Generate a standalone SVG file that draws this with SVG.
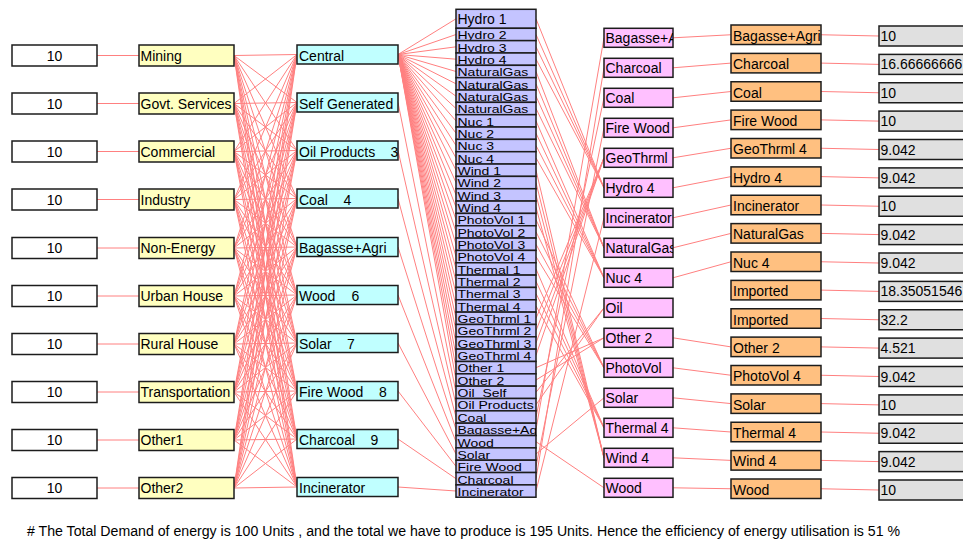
<svg xmlns="http://www.w3.org/2000/svg" width="963" height="543" viewBox="0 0 963 543">
<style>
  text { font-family: "Liberation Sans", Arial, sans-serif; font-size: 14px; fill: #000; }
  .b { stroke: #1c1c1c; stroke-width: 1.5; }
  .dem { fill: #ffffff; }
  .sec { fill: #ffffc0; }
  .sup { fill: #c0ffff; }
  .mix { fill: #c4c4ff; }
  .src { fill: #ffc0ff; }
  .fuel { fill: #ffc080; }
  .val { fill: #e0e0e0; }
  .lk { stroke: #ff8080; stroke-width: 1; fill: none; }
  .mid { text-anchor: middle; }
  /* labels of the thin stacked cells are squeezed vertically to fit their row */
  .sq { transform: scale(1, 0.78); }
</style>
<rect width="963" height="543" fill="#ffffff"/>

<!-- connectors -->
<g id="connectors" class="lk">
  <!-- demand to sector -->
  <path d="M97 55.5H139M97 103.5H139M97 151.5H139M97 199.5H139M97 248H139M97 296H139M97 344H139M97 392H139M97 440H139M97 488H139"/>
  <!-- sector to supply (every pair) -->
  <path d="M234 55.5L297 54.5M234 55.5L297 102.5M234 55.5L297 150.5M234 55.5L297 198.5M234 55.5L297 247M234 55.5L297 295M234 55.5L297 343M234 55.5L297 391M234 55.5L297 439M234 55.5L297 487"/>
  <path d="M234 103.5L297 54.5M234 103.5L297 102.5M234 103.5L297 150.5M234 103.5L297 198.5M234 103.5L297 247M234 103.5L297 295M234 103.5L297 343M234 103.5L297 391M234 103.5L297 439M234 103.5L297 487"/>
  <path d="M234 151.5L297 54.5M234 151.5L297 102.5M234 151.5L297 150.5M234 151.5L297 198.5M234 151.5L297 247M234 151.5L297 295M234 151.5L297 343M234 151.5L297 391M234 151.5L297 439M234 151.5L297 487"/>
  <path d="M234 199.5L297 54.5M234 199.5L297 102.5M234 199.5L297 150.5M234 199.5L297 198.5M234 199.5L297 247M234 199.5L297 295M234 199.5L297 343M234 199.5L297 391M234 199.5L297 439M234 199.5L297 487"/>
  <path d="M234 248L297 54.5M234 248L297 102.5M234 248L297 150.5M234 248L297 198.5M234 248L297 247M234 248L297 295M234 248L297 343M234 248L297 391M234 248L297 439M234 248L297 487"/>
  <path d="M234 296L297 54.5M234 296L297 102.5M234 296L297 150.5M234 296L297 198.5M234 296L297 247M234 296L297 295M234 296L297 343M234 296L297 391M234 296L297 439M234 296L297 487"/>
  <path d="M234 344L297 54.5M234 344L297 102.5M234 344L297 150.5M234 344L297 198.5M234 344L297 247M234 344L297 295M234 344L297 343M234 344L297 391M234 344L297 439M234 344L297 487"/>
  <path d="M234 392L297 54.5M234 392L297 102.5M234 392L297 150.5M234 392L297 198.5M234 392L297 247M234 392L297 295M234 392L297 343M234 392L297 391M234 392L297 439M234 392L297 487"/>
  <path d="M234 440L297 54.5M234 440L297 102.5M234 440L297 150.5M234 440L297 198.5M234 440L297 247M234 440L297 295M234 440L297 343M234 440L297 391M234 440L297 439M234 440L297 487"/>
  <path d="M234 488L297 54.5M234 488L297 102.5M234 488L297 150.5M234 488L297 198.5M234 488L297 247M234 488L297 295M234 488L297 343M234 488L297 391M234 488L297 439M234 488L297 487"/>
  <!-- central supply fans out to the generation cells -->
  <path d="M398 54.5L456 18.8M398 54.5L456 34.5M398 54.5L456 46.8M398 54.5L456 59.2M398 54.5L456 71.5M398 54.5L456 83.8M398 54.5L456 96.2M398 54.5L456 108.5M398 54.5L456 120.9M398 54.5L456 133.2M398 54.5L456 145.5M398 54.5L456 157.9M398 54.5L456 170.2M398 54.5L456 182.6M398 54.5L456 194.9M398 54.5L456 207.2M398 54.5L456 219.6M398 54.5L456 231.9M398 54.5L456 244.3M398 54.5L456 256.6M398 54.5L456 268.9M398 54.5L456 281.3M398 54.5L456 293.6M398 54.5L456 306M398 54.5L456 318.3M398 54.5L456 330.6M398 54.5L456 343M398 54.5L456 355.3M398 54.5L456 367.7M398 54.5L456 380"/>
  <!-- other supplies to their own cell -->
  <path d="M398 102.5L456 392.3M398 150.5L456 404.7M398 198.5L456 417M398 247L456 429.4M398 295L456 441.7M398 343L456 454M398 391L456 466.4M398 439L456 478.7M398 487L456 491"/>
  <!-- generation cells to energy sources -->
  <path d="M536 18.8L604 187.8M536 34.5L604 187.8M536 46.8L604 187.8M536 59.2L604 187.8"/>
  <path d="M536 71.5L604 247.8M536 83.8L604 247.8M536 96.2L604 247.8M536 108.5L604 247.8"/>
  <path d="M536 120.9L604 277.8M536 133.2L604 277.8M536 145.5L604 277.8M536 157.9L604 277.8"/>
  <path d="M536 170.2L604 457.8M536 182.6L604 457.8M536 194.9L604 457.8M536 207.2L604 457.8"/>
  <path d="M536 219.6L604 367.8M536 231.9L604 367.8M536 244.3L604 367.8M536 256.6L604 367.8"/>
  <path d="M536 268.9L604 427.8M536 281.3L604 427.8M536 293.6L604 427.8M536 306L604 427.8"/>
  <path d="M536 318.3L604 157.8M536 330.6L604 157.8M536 343L604 157.8M536 355.3L604 157.8"/>
  <path d="M536 367.7L604 337.8M536 380L604 337.8"/>
  <path d="M536 392.3L604 307.8M536 404.7L604 307.8"/>
  <path d="M536 417L604 97.8M536 429.4L604 37.8M536 441.7L604 487.8M536 454L604 397.8M536 466.4L604 127.8M536 478.7L604 67.8M536 491L604 217.8"/>
  <!-- energy sources to fuels -->
  <path d="M673 37.8L731 34.75M673 67.8L731 63.1M673 97.8L731 91.5M673 127.8L731 119.9M673 157.8L731 148.25M673 187.8L731 176.6M673 217.8L731 205M673 247.8L731 233.4M673 277.8L731 261.75M673 337.8L731 346.9M673 367.8L731 375.25M673 397.8L731 403.6M673 427.8L731 432M673 457.8L731 460.4M673 487.8L731 488.75"/>
  <!-- fuels to values -->
  <path d="M821 34.75L879 36M821 63.1L879 64.4M821 91.5L879 92.75M821 119.9L879 121.1M821 148.25L879 149.5M821 176.6L879 177.9M821 205L879 206.25M821 233.4L879 234.6M821 261.75L879 263M821 290.1L879 291.4M821 318.5L879 319.75M821 346.9L879 348.1M821 375.25L879 376.5M821 403.6L879 404.9M821 432L879 433.25M821 460.4L879 461.6M821 488.75L879 490"/>
</g>

<!-- demand values -->
<g id="dem-mining"><rect class="b dem" x="12" y="45" width="85" height="21"/><text class="mid" x="54.5" y="60.5">10</text></g>
<g id="dem-govt"><rect class="b dem" x="12" y="93" width="85" height="21"/><text class="mid" x="54.5" y="108.5">10</text></g>
<g id="dem-commercial"><rect class="b dem" x="12" y="141" width="85" height="21"/><text class="mid" x="54.5" y="156.5">10</text></g>
<g id="dem-industry"><rect class="b dem" x="12" y="189" width="85" height="21"/><text class="mid" x="54.5" y="204.5">10</text></g>
<g id="dem-nonenergy"><rect class="b dem" x="12" y="237.5" width="85" height="21"/><text class="mid" x="54.5" y="253">10</text></g>
<g id="dem-urban"><rect class="b dem" x="12" y="285.5" width="85" height="21"/><text class="mid" x="54.5" y="301">10</text></g>
<g id="dem-rural"><rect class="b dem" x="12" y="333.5" width="85" height="21"/><text class="mid" x="54.5" y="349">10</text></g>
<g id="dem-transport"><rect class="b dem" x="12" y="381.5" width="85" height="21"/><text class="mid" x="54.5" y="397">10</text></g>
<g id="dem-other1"><rect class="b dem" x="12" y="429.5" width="85" height="21"/><text class="mid" x="54.5" y="445">10</text></g>
<g id="dem-other2"><rect class="b dem" x="12" y="477.5" width="85" height="21"/><text class="mid" x="54.5" y="493">10</text></g>

<!-- demand sectors -->
<g id="sec-mining"><rect class="b sec" x="139" y="45" width="95" height="21"/><text x="140.5" y="60.5">Mining</text></g>
<g id="sec-govt"><rect class="b sec" x="139" y="93" width="95" height="21"/><text x="140.5" y="108.5">Govt. Services</text></g>
<g id="sec-commercial"><rect class="b sec" x="139" y="141" width="95" height="21"/><text x="140.5" y="156.5">Commercial</text></g>
<g id="sec-industry"><rect class="b sec" x="139" y="189" width="95" height="21"/><text x="140.5" y="204.5">Industry</text></g>
<g id="sec-nonenergy"><rect class="b sec" x="139" y="237.5" width="95" height="21"/><text x="140.5" y="253">Non-Energy</text></g>
<g id="sec-urban"><rect class="b sec" x="139" y="285.5" width="95" height="21"/><text x="140.5" y="301">Urban House</text></g>
<g id="sec-rural"><rect class="b sec" x="139" y="333.5" width="95" height="21"/><text x="140.5" y="349">Rural House</text></g>
<g id="sec-transport"><rect class="b sec" x="139" y="381.5" width="95" height="21"/><text x="140.5" y="397">Transportation</text></g>
<g id="sec-other1"><rect class="b sec" x="139" y="429.5" width="95" height="21"/><text x="140.5" y="445">Other1</text></g>
<g id="sec-other2"><rect class="b sec" x="139" y="477.5" width="95" height="21"/><text x="140.5" y="493">Other2</text></g>

<!-- supply routes -->
<g id="sup-central"><rect class="b sup" x="297" y="45" width="101" height="19"/><text x="299" y="60.5">Central</text></g>
<g id="sup-self"><rect class="b sup" x="297" y="93" width="101" height="19"/><text x="299" y="108.5">Self Generated</text></g>
<g id="sup-oil"><rect class="b sup" x="297" y="141" width="101" height="19"/><text x="299" y="156.5">Oil Products<tspan x="390.5">3</tspan></text></g>
<g id="sup-coal"><rect class="b sup" x="297" y="189" width="101" height="19"/><text x="299" y="204.5">Coal<tspan x="343.5">4</tspan></text></g>
<g id="sup-bagasse"><rect class="b sup" x="297" y="237.5" width="101" height="19"/><text x="299" y="253">Bagasse+Agri</text></g>
<g id="sup-wood"><rect class="b sup" x="297" y="285.5" width="101" height="19"/><text x="299" y="301">Wood<tspan x="351.5">6</tspan></text></g>
<g id="sup-solar"><rect class="b sup" x="297" y="333.5" width="101" height="19"/><text x="299" y="349">Solar<tspan x="347">7</tspan></text></g>
<g id="sup-firewood"><rect class="b sup" x="297" y="381.5" width="101" height="19"/><text x="299" y="397">Fire Wood<tspan x="379">8</tspan></text></g>
<g id="sup-charcoal"><rect class="b sup" x="297" y="429.5" width="101" height="19"/><text x="299" y="445">Charcoal<tspan x="370.5">9</tspan></text></g>
<g id="sup-incinerator"><rect class="b sup" x="297" y="477.5" width="101" height="19"/><text x="299" y="493">Incinerator</text></g>

<!-- generation mix column: stacked cells, labels clipped to their cell -->
<g id="mix-hydro-1"><rect class="b mix" x="456" y="9.3" width="80" height="19"/><svg x="456" y="9.3" width="80" height="19"><text x="1.5" y="15">Hydro 1</text></svg></g>
<g id="mix-hydro-2"><rect class="b mix" x="456" y="28.3" width="80" height="12.34"/><svg x="456" y="28.3" width="80" height="12.34"><text class="sq" x="1.5" y="14.1">Hydro 2</text></svg></g>
<g id="mix-hydro-3"><rect class="b mix" x="456" y="40.64" width="80" height="12.34"/><svg x="456" y="40.64" width="80" height="12.34"><text class="sq" x="1.5" y="14.1">Hydro 3</text></svg></g>
<g id="mix-hydro-4"><rect class="b mix" x="456" y="52.98" width="80" height="12.34"/><svg x="456" y="52.98" width="80" height="12.34"><text class="sq" x="1.5" y="14.1">Hydro 4</text></svg></g>
<g id="mix-gas-1"><rect class="b mix" x="456" y="65.32" width="80" height="12.34"/><svg x="456" y="65.32" width="80" height="12.34"><text class="sq" x="1.5" y="14.1">NaturalGas</text></svg></g>
<g id="mix-gas-2"><rect class="b mix" x="456" y="77.66" width="80" height="12.34"/><svg x="456" y="77.66" width="80" height="12.34"><text class="sq" x="1.5" y="14.1">NaturalGas</text></svg></g>
<g id="mix-gas-3"><rect class="b mix" x="456" y="90" width="80" height="12.34"/><svg x="456" y="90" width="80" height="12.34"><text class="sq" x="1.5" y="14.1">NaturalGas</text></svg></g>
<g id="mix-gas-4"><rect class="b mix" x="456" y="102.34" width="80" height="12.34"/><svg x="456" y="102.34" width="80" height="12.34"><text class="sq" x="1.5" y="14.1">NaturalGas</text></svg></g>
<g id="mix-nuc-1"><rect class="b mix" x="456" y="114.68" width="80" height="12.34"/><svg x="456" y="114.68" width="80" height="12.34"><text class="sq" x="1.5" y="14.1">Nuc 1</text></svg></g>
<g id="mix-nuc-2"><rect class="b mix" x="456" y="127.02" width="80" height="12.34"/><svg x="456" y="127.02" width="80" height="12.34"><text class="sq" x="1.5" y="14.1">Nuc 2</text></svg></g>
<g id="mix-nuc-3"><rect class="b mix" x="456" y="139.36" width="80" height="12.34"/><svg x="456" y="139.36" width="80" height="12.34"><text class="sq" x="1.5" y="14.1">Nuc 3</text></svg></g>
<g id="mix-nuc-4"><rect class="b mix" x="456" y="151.7" width="80" height="12.34"/><svg x="456" y="151.7" width="80" height="12.34"><text class="sq" x="1.5" y="14.1">Nuc 4</text></svg></g>
<g id="mix-wind-1"><rect class="b mix" x="456" y="164.04" width="80" height="12.34"/><svg x="456" y="164.04" width="80" height="12.34"><text class="sq" x="1.5" y="14.1">Wind 1</text></svg></g>
<g id="mix-wind-2"><rect class="b mix" x="456" y="176.38" width="80" height="12.34"/><svg x="456" y="176.38" width="80" height="12.34"><text class="sq" x="1.5" y="14.1">Wind 2</text></svg></g>
<g id="mix-wind-3"><rect class="b mix" x="456" y="188.72" width="80" height="12.34"/><svg x="456" y="188.72" width="80" height="12.34"><text class="sq" x="1.5" y="14.1">Wind 3</text></svg></g>
<g id="mix-wind-4"><rect class="b mix" x="456" y="201.06" width="80" height="12.34"/><svg x="456" y="201.06" width="80" height="12.34"><text class="sq" x="1.5" y="14.1">Wind 4</text></svg></g>
<g id="mix-pv-1"><rect class="b mix" x="456" y="213.4" width="80" height="12.34"/><svg x="456" y="213.4" width="80" height="12.34"><text class="sq" x="1.5" y="14.1">PhotoVol 1</text></svg></g>
<g id="mix-pv-2"><rect class="b mix" x="456" y="225.74" width="80" height="12.34"/><svg x="456" y="225.74" width="80" height="12.34"><text class="sq" x="1.5" y="14.1">PhotoVol 2</text></svg></g>
<g id="mix-pv-3"><rect class="b mix" x="456" y="238.08" width="80" height="12.34"/><svg x="456" y="238.08" width="80" height="12.34"><text class="sq" x="1.5" y="14.1">PhotoVol 3</text></svg></g>
<g id="mix-pv-4"><rect class="b mix" x="456" y="250.42" width="80" height="12.34"/><svg x="456" y="250.42" width="80" height="12.34"><text class="sq" x="1.5" y="14.1">PhotoVol 4</text></svg></g>
<g id="mix-thermal-1"><rect class="b mix" x="456" y="262.76" width="80" height="12.34"/><svg x="456" y="262.76" width="80" height="12.34"><text class="sq" x="1.5" y="14.1">Thermal 1</text></svg></g>
<g id="mix-thermal-2"><rect class="b mix" x="456" y="275.1" width="80" height="12.34"/><svg x="456" y="275.1" width="80" height="12.34"><text class="sq" x="1.5" y="14.1">Thermal 2</text></svg></g>
<g id="mix-thermal-3"><rect class="b mix" x="456" y="287.44" width="80" height="12.34"/><svg x="456" y="287.44" width="80" height="12.34"><text class="sq" x="1.5" y="14.1">Thermal 3</text></svg></g>
<g id="mix-thermal-4"><rect class="b mix" x="456" y="299.78" width="80" height="12.34"/><svg x="456" y="299.78" width="80" height="12.34"><text class="sq" x="1.5" y="14.1">Thermal 4</text></svg></g>
<g id="mix-geo-1"><rect class="b mix" x="456" y="312.12" width="80" height="12.34"/><svg x="456" y="312.12" width="80" height="12.34"><text class="sq" x="1.5" y="14.1">GeoThrml 1</text></svg></g>
<g id="mix-geo-2"><rect class="b mix" x="456" y="324.46" width="80" height="12.34"/><svg x="456" y="324.46" width="80" height="12.34"><text class="sq" x="1.5" y="14.1">GeoThrml 2</text></svg></g>
<g id="mix-geo-3"><rect class="b mix" x="456" y="336.8" width="80" height="12.34"/><svg x="456" y="336.8" width="80" height="12.34"><text class="sq" x="1.5" y="14.1">GeoThrml 3</text></svg></g>
<g id="mix-geo-4"><rect class="b mix" x="456" y="349.14" width="80" height="12.34"/><svg x="456" y="349.14" width="80" height="12.34"><text class="sq" x="1.5" y="14.1">GeoThrml 4</text></svg></g>
<g id="mix-other-1"><rect class="b mix" x="456" y="361.48" width="80" height="12.34"/><svg x="456" y="361.48" width="80" height="12.34"><text class="sq" x="1.5" y="14.1">Other 1</text></svg></g>
<g id="mix-other-2"><rect class="b mix" x="456" y="373.82" width="80" height="12.34"/><svg x="456" y="373.82" width="80" height="12.34"><text class="sq" x="1.5" y="14.1">Other 2</text></svg></g>
<g id="mix-oil-self"><rect class="b mix" x="456" y="386.16" width="80" height="12.34"/><svg x="456" y="386.16" width="80" height="12.34"><text class="sq" x="1.5" y="14.1">Oil_Self</text></svg></g>
<g id="mix-oil-products"><rect class="b mix" x="456" y="398.5" width="80" height="12.34"/><svg x="456" y="398.5" width="80" height="12.34"><text class="sq" x="1.5" y="14.1">Oil Products</text></svg></g>
<g id="mix-coal"><rect class="b mix" x="456" y="410.84" width="80" height="12.34"/><svg x="456" y="410.84" width="80" height="12.34"><text class="sq" x="1.5" y="14.1">Coal</text></svg></g>
<g id="mix-bagasse"><rect class="b mix" x="456" y="423.18" width="80" height="12.34"/><svg x="456" y="423.18" width="80" height="12.34"><text class="sq" x="1.5" y="14.1">Bagasse+Ag</text></svg></g>
<g id="mix-wood"><rect class="b mix" x="456" y="435.52" width="80" height="12.34"/><svg x="456" y="435.52" width="80" height="12.34"><text class="sq" x="1.5" y="14.1">Wood</text></svg></g>
<g id="mix-solar"><rect class="b mix" x="456" y="447.86" width="80" height="12.34"/><svg x="456" y="447.86" width="80" height="12.34"><text class="sq" x="1.5" y="14.1">Solar</text></svg></g>
<g id="mix-firewood"><rect class="b mix" x="456" y="460.2" width="80" height="12.34"/><svg x="456" y="460.2" width="80" height="12.34"><text class="sq" x="1.5" y="14.1">Fire Wood</text></svg></g>
<g id="mix-charcoal"><rect class="b mix" x="456" y="472.54" width="80" height="12.34"/><svg x="456" y="472.54" width="80" height="12.34"><text class="sq" x="1.5" y="14.1">Charcoal</text></svg></g>
<g id="mix-incinerator"><rect class="b mix" x="456" y="484.88" width="80" height="12.34"/><svg x="456" y="484.88" width="80" height="12.34"><text class="sq" x="1.5" y="14.1">Incinerator</text></svg></g>

<!-- energy sources -->
<g id="src-bagasse"><rect class="b src" x="604" y="28.3" width="69" height="19"/><svg x="604" y="28.3" width="69" height="19"><text x="1.5" y="15.2">Bagasse+A</text></svg></g>
<g id="src-charcoal"><rect class="b src" x="604" y="58.3" width="69" height="19"/><svg x="604" y="58.3" width="69" height="19"><text x="1.5" y="15.2">Charcoal</text></svg></g>
<g id="src-coal"><rect class="b src" x="604" y="88.3" width="69" height="19"/><svg x="604" y="88.3" width="69" height="19"><text x="1.5" y="15.2">Coal</text></svg></g>
<g id="src-firewood"><rect class="b src" x="604" y="118.3" width="69" height="19"/><svg x="604" y="118.3" width="69" height="19"><text x="1.5" y="15.2">Fire Wood</text></svg></g>
<g id="src-geo"><rect class="b src" x="604" y="148.3" width="69" height="19"/><svg x="604" y="148.3" width="69" height="19"><text x="1.5" y="15.2">GeoThrml</text></svg></g>
<g id="src-hydro"><rect class="b src" x="604" y="178.3" width="69" height="19"/><svg x="604" y="178.3" width="69" height="19"><text x="1.5" y="15.2">Hydro 4</text></svg></g>
<g id="src-incinerator"><rect class="b src" x="604" y="208.3" width="69" height="19"/><svg x="604" y="208.3" width="69" height="19"><text x="1.5" y="15.2">Incinerator</text></svg></g>
<g id="src-gas"><rect class="b src" x="604" y="238.3" width="69" height="19"/><svg x="604" y="238.3" width="69" height="19"><text x="1.5" y="15.2">NaturalGas</text></svg></g>
<g id="src-nuc"><rect class="b src" x="604" y="268.3" width="69" height="19"/><svg x="604" y="268.3" width="69" height="19"><text x="1.5" y="15.2">Nuc 4</text></svg></g>
<g id="src-oil"><rect class="b src" x="604" y="298.3" width="69" height="19"/><svg x="604" y="298.3" width="69" height="19"><text x="1.5" y="15.2">Oil</text></svg></g>
<g id="src-other"><rect class="b src" x="604" y="328.3" width="69" height="19"/><svg x="604" y="328.3" width="69" height="19"><text x="1.5" y="15.2">Other 2</text></svg></g>
<g id="src-pv"><rect class="b src" x="604" y="358.3" width="69" height="19"/><svg x="604" y="358.3" width="69" height="19"><text x="1.5" y="15.2">PhotoVol</text></svg></g>
<g id="src-solar"><rect class="b src" x="604" y="388.3" width="69" height="19"/><svg x="604" y="388.3" width="69" height="19"><text x="1.5" y="15.2">Solar</text></svg></g>
<g id="src-thermal"><rect class="b src" x="604" y="418.3" width="69" height="19"/><svg x="604" y="418.3" width="69" height="19"><text x="1.5" y="15.2">Thermal 4</text></svg></g>
<g id="src-wind"><rect class="b src" x="604" y="448.3" width="69" height="19"/><svg x="604" y="448.3" width="69" height="19"><text x="1.5" y="15.2">Wind 4</text></svg></g>
<g id="src-wood"><rect class="b src" x="604" y="478.3" width="69" height="19"/><svg x="604" y="478.3" width="69" height="19"><text x="1.5" y="15.2">Wood</text></svg></g>

<!-- fuels -->
<g id="fuel-bagasse"><rect class="b fuel" x="731" y="25" width="90" height="19.5"/><text x="733" y="40.8">Bagasse+Agri</text></g>
<g id="fuel-charcoal"><rect class="b fuel" x="731" y="53.4" width="90" height="19.5"/><text x="733" y="69.2">Charcoal</text></g>
<g id="fuel-coal"><rect class="b fuel" x="731" y="81.75" width="90" height="19.5"/><text x="733" y="97.5">Coal</text></g>
<g id="fuel-firewood"><rect class="b fuel" x="731" y="110.1" width="90" height="19.5"/><text x="733" y="125.9">Fire Wood</text></g>
<g id="fuel-geo"><rect class="b fuel" x="731" y="138.5" width="90" height="19.5"/><text x="733" y="154.3">GeoThrml 4</text></g>
<g id="fuel-hydro"><rect class="b fuel" x="731" y="166.9" width="90" height="19.5"/><text x="733" y="182.7">Hydro 4</text></g>
<g id="fuel-incinerator"><rect class="b fuel" x="731" y="195.25" width="90" height="19.5"/><text x="733" y="211">Incinerator</text></g>
<g id="fuel-gas"><rect class="b fuel" x="731" y="223.6" width="90" height="19.5"/><text x="733" y="239.4">NaturalGas</text></g>
<g id="fuel-nuc"><rect class="b fuel" x="731" y="252" width="90" height="19.5"/><text x="733" y="267.8">Nuc 4</text></g>
<g id="fuel-imported-1"><rect class="b fuel" x="731" y="280.4" width="90" height="19.5"/><text x="733" y="296.2">Imported</text></g>
<g id="fuel-imported-2"><rect class="b fuel" x="731" y="308.75" width="90" height="19.5"/><text x="733" y="324.5">Imported</text></g>
<g id="fuel-other"><rect class="b fuel" x="731" y="337.1" width="90" height="19.5"/><text x="733" y="352.9">Other 2</text></g>
<g id="fuel-pv"><rect class="b fuel" x="731" y="365.5" width="90" height="19.5"/><text x="733" y="381.3">PhotoVol 4</text></g>
<g id="fuel-solar"><rect class="b fuel" x="731" y="393.9" width="90" height="19.5"/><text x="733" y="409.7">Solar</text></g>
<g id="fuel-thermal"><rect class="b fuel" x="731" y="422.25" width="90" height="19.5"/><text x="733" y="438">Thermal 4</text></g>
<g id="fuel-wind"><rect class="b fuel" x="731" y="450.6" width="90" height="19.5"/><text x="733" y="466.4">Wind 4</text></g>
<g id="fuel-wood"><rect class="b fuel" x="731" y="479" width="90" height="19.5"/><text x="733" y="494.8">Wood</text></g>

<!-- produced amounts -->
<g id="val-bagasse"><rect class="b val" x="879" y="26" width="100" height="20"/><text x="880.5" y="41">10</text></g>
<g id="val-charcoal"><rect class="b val" x="879" y="54.4" width="100" height="20"/><text x="880.5" y="69.4">16.66666666</text></g>
<g id="val-coal"><rect class="b val" x="879" y="82.75" width="100" height="20"/><text x="880.5" y="97.75">10</text></g>
<g id="val-firewood"><rect class="b val" x="879" y="111.1" width="100" height="20"/><text x="880.5" y="126.1">10</text></g>
<g id="val-geo"><rect class="b val" x="879" y="139.5" width="100" height="20"/><text x="880.5" y="154.5">9.042</text></g>
<g id="val-hydro"><rect class="b val" x="879" y="167.9" width="100" height="20"/><text x="880.5" y="182.9">9.042</text></g>
<g id="val-incinerator"><rect class="b val" x="879" y="196.25" width="100" height="20"/><text x="880.5" y="211.25">10</text></g>
<g id="val-gas"><rect class="b val" x="879" y="224.6" width="100" height="20"/><text x="880.5" y="239.6">9.042</text></g>
<g id="val-nuc"><rect class="b val" x="879" y="253" width="100" height="20"/><text x="880.5" y="268">9.042</text></g>
<g id="val-imported-1"><rect class="b val" x="879" y="281.4" width="100" height="20"/><text x="880.5" y="296.4">18.35051546</text></g>
<g id="val-imported-2"><rect class="b val" x="879" y="309.75" width="100" height="20"/><text x="880.5" y="324.75">32.2</text></g>
<g id="val-other"><rect class="b val" x="879" y="338.1" width="100" height="20"/><text x="880.5" y="353.1">4.521</text></g>
<g id="val-pv"><rect class="b val" x="879" y="366.5" width="100" height="20"/><text x="880.5" y="381.5">9.042</text></g>
<g id="val-solar"><rect class="b val" x="879" y="394.9" width="100" height="20"/><text x="880.5" y="409.9">10</text></g>
<g id="val-thermal"><rect class="b val" x="879" y="423.25" width="100" height="20"/><text x="880.5" y="438.25">9.042</text></g>
<g id="val-wind"><rect class="b val" x="879" y="451.6" width="100" height="20"/><text x="880.5" y="466.6">9.042</text></g>
<g id="val-wood"><rect class="b val" x="879" y="480" width="100" height="20"/><text x="880.5" y="495">10</text></g>

<!-- summary note -->
<text id="note" x="27" y="535.5" style="font-size:14px" textLength="873" lengthAdjust="spacingAndGlyphs"># The Total Demand of energy is 100 Units , and the total we have to produce is 195 Units. Hence the efficiency of energy utilisation is 51 %</text>
</svg>
